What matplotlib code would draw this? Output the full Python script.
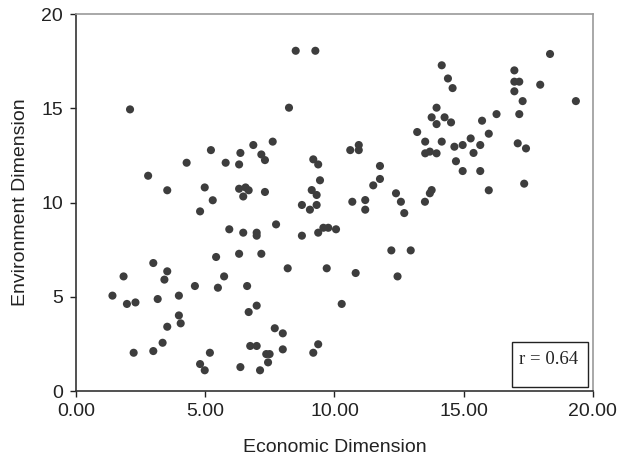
import matplotlib
matplotlib.use("Agg")
import matplotlib.pyplot as plt
from matplotlib.patches import Rectangle
from matplotlib.ticker import FormatStrFormatter

# economic / environment scores
econ = [2.09, 8.50, 9.26, 8.24, 7.61, 6.86, 5.22, 6.36, 7.17, 7.31,
        4.28, 5.79, 6.31, 9.18, 9.37, 9.44, 2.79, 3.53, 4.98, 5.29,
        6.31, 6.56, 6.68, 6.47, 7.31, 9.12, 9.31, 4.80, 8.74, 9.05,
        9.31, 5.93, 6.47, 6.99, 6.99, 7.74, 8.74, 9.37, 9.57, 9.76,
        10.06, 5.42, 6.31, 7.17, 8.19, 9.70, 1.84, 2.99, 3.53, 3.42,
        5.73, 4.60, 5.49, 6.62, 1.41, 1.97, 2.30, 3.16, 3.98, 10.28,
        3.98, 4.05, 3.53, 3.35, 2.99, 2.23, 6.68, 6.99, 7.69, 8.00,
        8.00, 6.74, 6.99, 7.36, 7.49, 7.43, 5.18, 4.80, 4.98, 6.36,
        7.12, 9.18, 9.37, 18.34, 14.15, 14.39, 14.57, 16.96, 16.96, 17.15,
        16.96, 17.28, 17.96, 19.34, 17.15, 16.27, 15.71, 15.97, 15.27, 15.64,
        15.38, 14.96, 14.64, 14.70, 14.96, 15.64, 15.97, 17.09, 17.41, 17.34,
        13.95, 13.76, 14.26, 13.95, 14.51, 13.20, 13.51, 13.51, 13.69, 13.95,
        14.15, 10.61, 10.94, 10.94, 11.76, 11.76, 11.50, 12.38, 10.69, 11.19,
        11.19, 12.57, 12.70, 13.76, 13.69, 13.50, 12.20, 12.95, 10.82, 12.44]
envir = [14.94, 18.05, 18.05, 15.03, 13.23, 13.05, 12.78, 12.63, 12.55, 12.25,
         12.11, 12.11, 12.02, 12.29, 12.02, 11.18, 11.42, 10.65, 10.80, 10.12,
         10.73, 10.80, 10.65, 10.32, 10.56, 10.66, 10.40, 9.53, 9.87, 9.62,
         9.87, 8.58, 8.40, 8.40, 8.24, 8.84, 8.24, 8.40, 8.66, 8.66,
         8.58, 7.11, 7.28, 7.28, 6.51, 6.51, 6.08, 6.79, 6.35, 5.91,
         6.08, 5.57, 5.48, 5.57, 5.06, 4.62, 4.70, 4.88, 5.06, 4.62,
         4.01, 3.59, 3.41, 2.56, 2.12, 2.03, 4.19, 4.53, 3.33, 3.06,
         2.21, 2.39, 2.39, 1.96, 1.96, 1.52, 2.03, 1.43, 1.10, 1.27,
         1.10, 2.03, 2.48, 17.88, 17.28, 16.58, 16.07, 17.01, 16.41, 16.41,
         15.90, 15.38, 16.25, 15.38, 14.69, 14.69, 14.34, 13.65, 13.40, 13.05,
         12.63, 13.05, 12.96, 12.19, 11.67, 11.67, 10.65, 13.14, 12.87, 11.00,
         15.03, 14.52, 14.52, 14.16, 14.25, 13.74, 13.23, 12.61, 12.70, 12.61,
         13.23, 12.78, 13.05, 12.78, 11.94, 11.25, 10.91, 10.49, 10.04, 10.13,
         9.62, 10.04, 9.44, 10.66, 10.49, 10.04, 7.46, 7.46, 6.26, 6.08]
r_value = 0.64

plt.rcParams['font.family'] = ['Liberation Sans', 'DejaVu Sans']

fig = plt.figure(figsize=(6.17, 4.61), dpi=100)
ax = fig.add_axes([0.1232, 0.1518, 0.8378, 0.8178])

ax.scatter(econ, envir, s=34, color="#3d3d3d", edgecolors="none", zorder=3)

ax.set_xlim(0, 20)
ax.set_ylim(0, 20)
ax.set_xticks([0, 5, 10, 15, 20])
ax.set_yticks([0, 5, 10, 15, 20])
ax.xaxis.set_major_formatter(FormatStrFormatter("%.2f"))
ax.tick_params(axis="both", direction="out", length=4, width=1,
               labelsize=14, colors="#222222")
ax.tick_params(axis="x", pad=4.5)
ax.tick_params(axis="y", pad=5.5)

for side in ["left", "bottom"]:
    ax.spines[side].set_color("#333333")
    ax.spines[side].set_linewidth(1.2)
for side in ["top", "right"]:
    ax.spines[side].set_color("#9a9a9a")
    ax.spines[side].set_linewidth(1.2)

ax.set_xlabel("Economic Dimension", fontsize=14, color="#222222", labelpad=14)
ax.set_ylabel("Environment Dimension", fontsize=14, color="#222222", labelpad=9)

# correlation box in the lower right corner
ax.add_patch(Rectangle((0.843, 0.010), 0.147, 0.120, transform=ax.transAxes,
                       facecolor="white", edgecolor="#222222", linewidth=1.0,
                       zorder=4))
ax.text(0.914, 0.071, f"r = {r_value:.2f}", transform=ax.transAxes,
        ha="center", va="baseline", fontsize=13.5, family="Liberation Serif",
        color="#222222", zorder=5)

fig.savefig("out.png", dpi=100)
